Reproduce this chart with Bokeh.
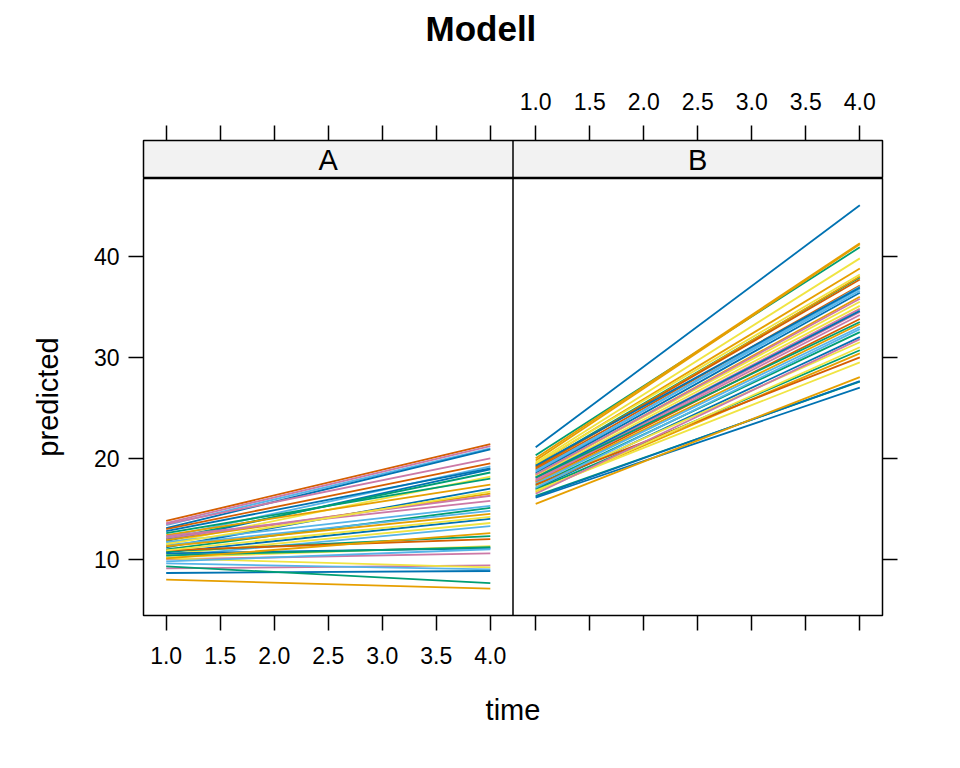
from bokeh.plotting import figure
from bokeh.layouts import column
from bokeh.models import FixedTicker, LinearAxis, Range1d, Span, Label, Title
from bokeh.embed import file_html
from bokeh.resources import INLINE

# ---------------- data ----------------
PAL = {"or": "#E69F00", "sk": "#56B4E9", "gr": "#009E73", "ye": "#F0E442",
       "bl": "#0072B2", "ve": "#D55E00", "pi": "#CC79A7"}

times = [1, 4]
panels = ["A", "B"]
x_ticks = [1.0, 1.5, 2.0, 2.5, 3.0, 3.5, 4.0]
x_tick_labels = ["1.0", "1.5", "2.0", "2.5", "3.0", "3.5", "4.0"]
y_ticks = [10, 20, 30, 40]

# panel A: predicted at time 1 and time 4
a_start = [13.8, 13.6, 13.4, 13.1, 13.5, 13.0, 12.2, 11.8, 12.0, 11.6,
           12.4, 11.2, 11.9, 12.1, 12.3, 11.0, 11.4, 11.3, 10.7, 10.5,
           10.3, 10.8, 10.9, 10.2, 10.6, 10.4, 10.0, 9.1, 10.1, 8.65,
           9.3, 8.0, 11.7, 10.9, 11.5, 12.6, 10.1, 9.8, 9.6, 12.8]
a_end = [21.4, 21.2, 21.0, 20.9, 20.0, 19.5, 19.2, 18.9, 18.6, 18.2,
         17.4, 17.0, 16.5, 16.3, 15.8, 15.1, 14.8, 14.5, 14.0, 13.6,
         13.3, 12.3, 12.0, 11.3, 11.1, 11.2, 10.6, 9.4, 9.2, 8.85,
         7.65, 7.1, 15.3, 14.2, 16.7, 18.0, 12.6, 11.0, 9.0, 19.0]
a_col = ["ve", "pi", "sk", "bl", "pi", "ve", "sk", "bl", "gr", "ye",
         "or", "bl", "or", "pi", "pi", "gr", "sk", "or", "bl", "ye",
         "sk", "gr", "ve", "ye", "bl", "gr", "pi", "pi", "ye", "bl",
         "gr", "or", "sk", "ye", "ye", "gr", "or", "sk", "sk", "bl"]

# panel B
b_start = [21.1, 20.3, 20.0, 19.8, 19.6, 19.4, 19.2, 19.0, 19.1, 18.9,
           18.7, 18.6, 18.5, 18.3, 18.4, 18.2, 18.0, 17.9, 18.1, 17.7,
           17.6, 17.5, 17.3, 17.0, 17.2, 16.9, 16.7, 17.4, 16.8, 16.3,
           16.2, 16.1, 15.5, 18.8, 18.4, 17.8, 19.3, 17.1, 16.6, 18.1,
           16.5, 19.5]
b_end = [45.05, 40.9, 41.3, 41.2, 39.8, 38.8, 37.9, 38.0, 37.7, 37.1,
         36.8, 37.0, 36.4, 36.0, 35.5, 35.1, 34.8, 34.5, 34.6, 33.8,
         33.3, 33.0, 32.5, 32.0, 31.5, 30.7, 30.4, 30.0, 29.5, 27.6,
         27.65, 27.0, 28.05, 36.6, 35.8, 34.2, 36.9, 32.8, 31.0, 33.5,
         31.8, 38.2]
b_col = ["bl", "gr", "or", "or", "ye", "or", "gr", "or", "ve", "ve",
         "sk", "sk", "bl", "or", "ye", "ye", "pi", "pi", "bl", "ve",
         "or", "sk", "gr", "bl", "ye", "gr", "or", "ve", "ye", "gr",
         "bl", "bl", "or", "sk", "pi", "pi", "bl", "sk", "ye", "gr",
         "pi", "ye"]

# ---------------- scales ----------------
PAD = 0.07
x_lo = min(times) - PAD * (max(times) - min(times))
x_hi = max(times) + PAD * (max(times) - min(times))
pw = x_hi - x_lo  # panel width in data units

all_y = a_start + a_end + b_start + b_end
y_lo = min(all_y) - PAD * (max(all_y) - min(all_y))
y_hi = max(all_y) + PAD * (max(all_y) - min(all_y))

FONT = "Liberation Sans"
FRAME_W = 739
LEFT = 143
RIGHT = 40


def style(ax, ticks, overrides, standoff=16):
    ax.ticker = FixedTicker(ticks=ticks, minor_ticks=[])
    ax.major_label_overrides = overrides
    ax.axis_line_color = None
    ax.major_tick_in = 0
    ax.major_tick_out = 15
    ax.major_tick_line_width = 1.5
    ax.major_tick_line_color = "black"
    ax.minor_tick_line_color = None
    ax.major_label_standoff = standoff
    ax.major_label_text_font = FONT
    ax.major_label_text_font_size = "23px"
    ax.major_label_text_color = "black"
    ax.axis_label_text_font = FONT
    ax.axis_label_text_font_size = "29px"
    ax.axis_label_text_font_style = "normal"
    ax.axis_label_text_color = "black"


xt_a = list(x_ticks)
xt_b = [t + pw for t in x_ticks]
all_xt = xt_a + xt_b
ov_bottom = {t: l for t, l in zip(xt_a, x_tick_labels)}
ov_bottom.update({t: "" for t in xt_b})
ov_top = {t: "" for t in xt_a}
ov_top.update({t: l for t, l in zip(xt_b, x_tick_labels)})

x_range = Range1d(x_lo, x_lo + 2 * pw)

# ---------------- strip figure (top) ----------------
s = figure(frame_width=FRAME_W, frame_height=38, x_range=x_range,
           y_range=Range1d(0, 1), output_backend="svg", toolbar_location=None,
           min_border_left=LEFT, min_border_right=RIGHT,
           min_border_top=140, min_border_bottom=0,
           x_axis_location="above", y_axis_location=None,
           title="Modell")
s.grid.grid_line_color = None
s.outline_line_color = "black"
s.outline_line_width = 1.5
s.background_fill_color = "#f2f2f2"
s.border_fill_color = "white"
s.title.align = "left"
s.title.offset = 282
s.title.text_font = FONT
s.title.text_font_size = "35px"
s.title.text_font_style = "bold"
s.title.text_color = "black"
style(s.xaxis[0], all_xt, ov_top)
# blank spacer between the top axis and the title
s.add_layout(Title(text=" ", text_font_size="22px"), "above")
s.add_layout(Span(location=x_hi, dimension="height", line_color="black", line_width=1.5))
for i, name in enumerate(panels):
    s.add_layout(Label(x=(min(times) + max(times)) / 2 + i * pw, y=0.5,
                       text=name, text_align="center", text_baseline="middle",
                       text_font=FONT, text_font_size="29px", text_color="black"))

# ---------------- panel figure ----------------
p = figure(frame_width=FRAME_W, frame_height=437, x_range=x_range,
           y_range=Range1d(y_lo, y_hi), output_backend="svg", toolbar_location=None,
           min_border_left=LEFT, min_border_right=RIGHT,
           min_border_top=0, min_border_bottom=140)
p.grid.grid_line_color = None
p.outline_line_color = "black"
p.outline_line_width = 1.5
p.background_fill_color = "white"
p.border_fill_color = "white"

xs_a = [[t for t in times] for _ in a_start]
ys_a = [[st, en] for st, en in zip(a_start, a_end)]
p.multi_line(xs_a, ys_a, line_color=[PAL[c] for c in a_col], line_width=1.8)
xs_b = [[t + pw for t in times] for _ in b_start]
ys_b = [[st, en] for st, en in zip(b_start, b_end)]
p.multi_line(xs_b, ys_b, line_color=[PAL[c] for c in b_col], line_width=1.8)
p.add_layout(Span(location=x_hi, dimension="height", line_color="black", line_width=1.5))

style(p.xaxis[0], all_xt, ov_bottom)
p.xaxis[0].axis_label = "time"
p.xaxis[0].axis_label_standoff = 27
style(p.yaxis[0], y_ticks, {}, standoff=9)
p.yaxis[0].axis_label = "predicted"
p.yaxis[0].axis_label_standoff = 27
right_ax = LinearAxis()
style(right_ax, y_ticks, {t: "" for t in y_ticks})
p.add_layout(right_ax, "right")

layout = column(s, p, spacing=0)
open("out.html", "w").write(file_html(layout, INLINE))
